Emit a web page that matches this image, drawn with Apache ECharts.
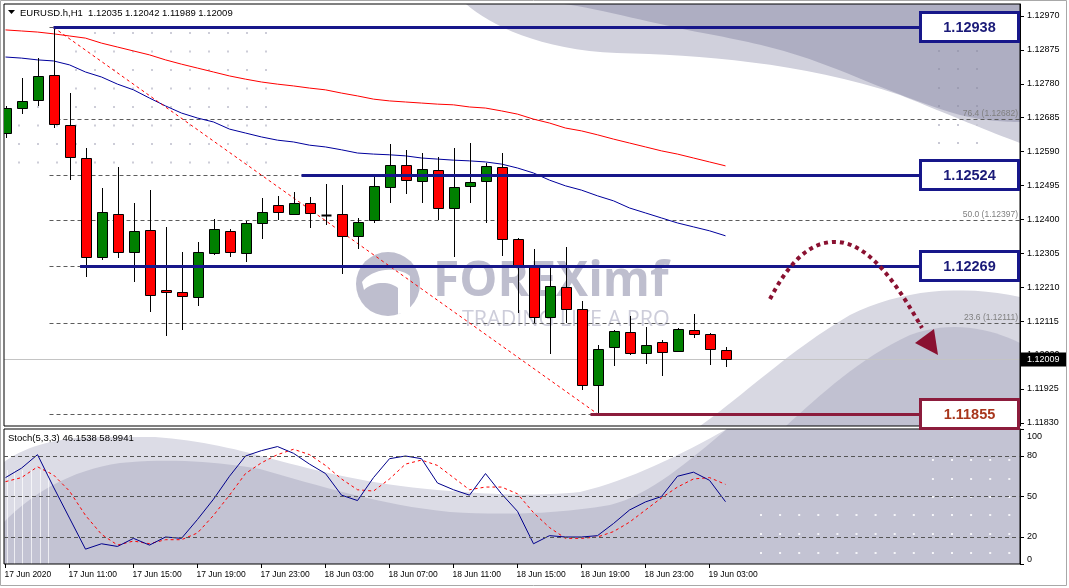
<!DOCTYPE html>
<html><head><meta charset="utf-8">
<script src="https://cdn.jsdelivr.net/npm/echarts@6/dist/echarts.min.js"></script>
<style>html,body{margin:0;padding:0;background:#fff}#c{width:1069px;height:588px}</style>
</head><body><div id="c"></div>
<script>
// ---------------- DATA ----------------
const symbolTitle = 'EURUSD.h,H1';
const tickBars = [0,4,8,12,16,20,24,28,32,36,40,44];
const tickLabels = ['17 Jun 2020','17 Jun 11:00','17 Jun 15:00','17 Jun 19:00','17 Jun 23:00','18 Jun 03:00','18 Jun 07:00','18 Jun 11:00','18 Jun 15:00','18 Jun 19:00','18 Jun 23:00','19 Jun 03:00'];
const priceTicks = [1.11830,1.11925,1.12020,1.12115,1.12210,1.12305,1.12400,1.12495,1.12590,1.12685,1.12780,1.12875,1.12970];
const stochTicks = [0,20,50,80,100];
const stochLevels = [20,50,80];

const opens  = [1.12642,1.12712,1.12735,1.12805,1.12665,1.12572,1.12295,1.12415,1.12309,1.12370,1.12202,1.12197,1.12183,1.12306,1.12368,1.12306,1.12390,1.12440,1.12415,1.12446,1.12412,1.12415,1.12354,1.12398,1.12491,1.12552,1.12508,1.12538,1.12432,1.12494,1.12508,1.12547,1.12345,1.12272,1.12127,1.12211,1.12149,1.11936,1.12042,1.12084,1.12026,1.12056,1.12031,1.12090,1.12079,1.12035];
const closes = [1.12712,1.12732,1.12802,1.12667,1.12575,1.12295,1.12421,1.12309,1.12368,1.12188,1.12197,1.12185,1.12309,1.12373,1.12309,1.12390,1.12421,1.12421,1.12446,1.12418,1.12412,1.12354,1.12393,1.12494,1.12552,1.12510,1.12541,1.12432,1.12491,1.12505,1.12550,1.12345,1.12272,1.12127,1.12213,1.12149,1.11936,1.12037,1.12087,1.12026,1.12048,1.12028,1.12093,1.12079,1.12037,1.12009];
const lows   = [1.12631,1.12698,1.12721,1.12659,1.12513,1.12241,1.12289,1.12295,1.12227,1.12143,1.12076,1.12093,1.12160,1.12303,1.12297,1.12283,1.12348,1.12401,1.12415,1.12379,1.12387,1.12250,1.12320,1.12393,1.12449,1.12474,1.12449,1.12401,1.12297,1.12449,1.12393,1.12300,1.12141,1.12113,1.12026,1.12113,1.11925,1.11855,1.11992,1.12023,1.11998,1.11964,1.12031,1.12070,1.11995,1.11989];
const highs  = [1.12718,1.12796,1.12852,1.12938,1.12754,1.12600,1.12488,1.12547,1.12446,1.12482,1.12379,1.12309,1.12337,1.12401,1.12373,1.12396,1.12460,1.12466,1.12477,1.12463,1.12499,1.12496,1.12404,1.12519,1.12611,1.12595,1.12586,1.12575,1.12600,1.12614,1.12558,1.12586,1.12348,1.12317,1.12264,1.12323,1.12171,1.12048,1.12090,1.12129,1.12099,1.12062,1.12096,1.12135,1.12082,1.12042];

const maBlue = [1.12855,1.12852,1.12847,1.12844,1.12833,1.12813,1.12799,1.12779,1.12763,1.12740,1.12718,1.12698,1.12684,1.12673,1.12653,1.12642,1.12631,1.12622,1.12617,1.12608,1.12603,1.12595,1.12586,1.12583,1.12581,1.12578,1.12572,1.12569,1.12566,1.12564,1.12561,1.12555,1.12544,1.12530,1.12510,1.12494,1.12482,1.12466,1.12452,1.12432,1.12418,1.12404,1.12390,1.12379,1.12368,1.12354];
const maRed  = [1.12931,1.12928,1.12925,1.12920,1.12914,1.12908,1.12894,1.12883,1.12872,1.12861,1.12847,1.12835,1.12824,1.12813,1.12802,1.12793,1.12785,1.12779,1.12774,1.12768,1.12763,1.12754,1.12746,1.12737,1.12732,1.12729,1.12726,1.12723,1.12721,1.12715,1.12712,1.12704,1.12695,1.12681,1.12670,1.12656,1.12648,1.12637,1.12625,1.12614,1.12603,1.12592,1.12583,1.12572,1.12561,1.12550];

const stochK = [64,71,81,57,34,11,15,13,19,14,20,19,33,48,65,80,84,87,82,74,67,51,47,64,78,80,78,60,55,51,67,52,39,15,21,20,20,21,30,40,46,50,65,68,62,46.1538];
const stochD = [61,64,72,66,54,36,22,14,17,15,18,18,23,36,51,67,75,81,85,81,73,63,55,54,63,74,77,73,64,55,57,57,52,38,27,19,19,20,24,31,40,49,57,63,64,58.9941];

const fibStartBar = 2.75;
const fibPercents = [0, 23.6, 38.2, 50.0, 61.8, 76.4, 100];
const fibPrices   = [1.11855, 1.12111, 1.12269, 1.12397, 1.12524, 1.12682, 1.12938];

const keyLevels     = [1.12938, 1.12524, 1.12269, 1.11855];
const keyStartBars  = [3, 18.5, 4.66, 36.56];
const keyKinds      = ['res', 'res', 'res', 'sup'];

const trendFrom = [3, 1.12938];
const trendTo   = [37, 1.11855];
const currentPrice = 1.12009;

// ---------------- LAYOUT / STYLE ----------------
const FONT = '"Liberation Sans", Arial, sans-serif';
const X_MIN = -0.094, X_MAX = 63.406;
const P_MIN = 1.11821, P_MAX = 1.130036;
const kindStroke = {res: '#17178a', sup: '#8c1c3c'};
const kindText = {res: '#1a1a78', sup: '#a8361c'};

// sample a simple "M x y C ... L ... Z" path into polygon points (decorative shapes only)
function samplePath(d) {
  const tok = d.replace(/,/g, ' ').trim().split(/\s+|(?=[MCLZ])|(?<=[MCLZ])/).filter(s => s.length);
  const pts = []; let i = 0, cmd = null, cur = [0,0];
  while (i < tok.length) {
    if (/^[MCLZ]$/.test(tok[i])) { cmd = tok[i++]; if (cmd === 'Z') continue; }
    if (cmd === 'M' || cmd === 'L') {
      cur = [+tok[i], +tok[i+1]]; i += 2; pts.push(cur.slice());
    } else if (cmd === 'C') {
      const p1 = [+tok[i], +tok[i+1]], p2 = [+tok[i+2], +tok[i+3]], p3 = [+tok[i+4], +tok[i+5]]; i += 6;
      for (let s = 1; s <= 16; s++) {
        const t = s / 16, u = 1 - t;
        pts.push([u*u*u*cur[0] + 3*u*u*t*p1[0] + 3*u*t*t*p2[0] + t*t*t*p3[0],
                  u*u*u*cur[1] + 3*u*u*t*p1[1] + 3*u*t*t*p2[1] + t*t*t*p3[1]]);
      }
      cur = p3;
    } else { i++; }
  }
  return pts;
}
function shape(d, fill, z) { return {type:'polygon', shape:{points: samplePath(d)}, style:{fill}, z: z || 0, silent:true}; }

const chart = echarts.init(document.getElementById('c'), null, {renderer: 'canvas'});

const gfx = [];
gfx.push({type:'rect', shape:{x:0.5,y:0.5,width:1066,height:585}, style:{fill:'#fff', stroke:'#a8a8a8', lineWidth:1}, z:-5, silent:true});
gfx.push(shape('M466 4 C490 25 540 50 617 53 C700 55 800 62 900 95 C950 115 990 132 1020 143 L1020 4 Z', '#d0d0dc'));
gfx.push(shape('M564 4 C600 9 660 25 703 33 C740 40 770 46 800 56 C850 72 900 98 960 115 C985 121 1005 122 1020 122 L1020 4 Z', '#aeaec2'));
gfx.push(shape('M700 426 C740 398 790 350 850 315 C900 290 960 284 1020 297 L1020 426 Z', '#d8d8e2'));
gfx.push(shape('M786 426 C820 395 860 358 910 335 C950 320 990 328 1020 343 L1020 426 Z', '#c1c1d1'));
gfx.push(shape('M4 462 C20 450 50 437 100 437 L155 437 C200 440 240 450 280 461 C330 474 380 486 450 491 C500 495 540 496 580 492 C630 480 680 455 727 429 L1020 429 L1020 564 L4 564 Z', '#dcdce6'));
gfx.push(shape('M4 522 C30 495 70 470 120 463 C170 458 220 462 260 469 C320 486 380 505 450 512 C520 516 570 512 610 505 C650 495 690 460 727 429 L1020 429 L1020 564 L4 564 Z', '#c3c3d3'));
[7,14,22,31,40,48].forEach(x => gfx.push({type:'line', shape:{x1:x+0.5,y1:470,x2:x+0.5,y2:564}, style:{stroke:'rgba(255,255,255,0.7)', lineWidth:1}, z:0, silent:true}));
for (let r = 0; r < 8; r++) {
  const y = 32 + r * 18.5;
  const startCol = r === 0 ? 4 : (r < 4 ? 3 : 0);
  for (let c = startCol; c < 14; c++) {
    gfx.push({type:'rect', shape:{x:18 + c*19, y:y, width:2, height:2}, style:{fill:'#cdcdd8'}, z:0, silent:true});
  }
}
[938,957,976].forEach(x => [50,68,87,105,124,142].forEach(y => gfx.push({type:'rect', shape:{x:x,y:y,width:2,height:2}, style:{fill: y < 118 ? '#9d9db2' : '#c8c8d4'}, z:0, silent:true})));
for (let c = 0; c < 14; c++) {
  const x = 760 + c * 19.1;
  [459,478,496,514,533,552].forEach((y, r) => {
    if (r < 3 && c < 9) return;
    gfx.push({type:'rect', shape:{x:x,y:y,width:2,height:2}, style:{fill:'#f4f4f8'}, z:0, silent:true});
  });
}
// watermark
gfx.push({type:'circle', shape:{cx:388, cy:284, r:32}, style:{fill:'#bebece'}, z:1, silent:true});
gfx.push(shape('M362 282 C372 268 398 266 410 276 L410 312 L398 314 L398 288 C388 280 372 282 364 290 Z', '#ffffff', 1));
gfx.push({type:'text', x:433, y:282, style:{text:'FOREXimf', fill:'#bebece', font:'bold 48px "Open Sans", sans-serif', align:'left', verticalAlign:'middle'}, z:1, silent:true});
gfx.push({type:'text', x:462, y:320, style:{text:'TRADING LIKE A PRO', fill:'#cdcdda', font:'21.5px "Open Sans", sans-serif', align:'left', verticalAlign:'middle'}, z:1, silent:true});
// header
gfx.push({type:'polygon', shape:{points:[[8,10],[15,10],[11.5,14]]}, style:{fill:'#000'}, z:20, silent:true});
gfx.push({type:'text', x:20, y:13, style:{text: symbolTitle + '  ' + [opens[45],highs[45],lows[45],closes[45]].map(v=>v.toFixed(5)).join(' '), fill:'#000', font:'9.5px ' + FONT, align:'left', verticalAlign:'middle'}, z:20, silent:true});
gfx.push({type:'text', x:8, y:438, style:{text: 'Stoch(5,3,3) ' + stochK[stochK.length-1].toFixed(4) + ' ' + stochD[stochD.length-1].toFixed(4), fill:'#000', font:'9.5px ' + FONT, align:'left', verticalAlign:'middle'}, z:20, silent:true});
// forecast arrow
gfx.push({type:'polyline', shape:{points: samplePath('M770 299 C790 260 812 240 838 242 C868 244 895 280 922 328')}, style:{fill:null, stroke:'#8a1131', lineWidth:4, lineDash:[4,4]}, z:50, silent:true});
gfx.push({type:'polygon', shape:{points:[[938,355],[915,343],[934,329]]}, style:{fill:'#8a1131'}, z:50, silent:true});

const axisFont = {color:'#000', fontFamily: FONT};

const option = {
  animation: false,
  backgroundColor: 'transparent',
  graphic: {elements: gfx},
  grid: [
    {left:4, top:4, width:1016, height:422, show:true, borderColor:'#000', borderWidth:1, backgroundColor:'transparent', outerBoundsMode:'none', z:3},
    {left:4, top:429, width:1016, height:135, show:true, borderColor:'#000', borderWidth:1, backgroundColor:'transparent', outerBoundsMode:'none', z:3}
  ],
  xAxis: [
    {type:'value', gridIndex:0, min:X_MIN, max:X_MAX, show:false, axisLine:{onZero:false}},
    {type:'value', gridIndex:1, min:X_MIN, max:X_MAX,
     axisLine:{show:false, onZero:false}, splitLine:{show:false},
     axisTick:{show:true, customValues: tickBars, length:4, lineStyle:{color:'#000'}},
     axisLabel:Object.assign({customValues: tickBars, formatter: v => tickLabels[tickBars.indexOf(v)], align:'left', fontSize:8.5, margin:6, padding:[0,0,0,-1]}, axisFont)}
  ],
  yAxis: [
    {type:'value', gridIndex:0, position:'right', min:P_MIN, max:P_MAX, z:5,
     axisLine:{show:true, onZero:false, lineStyle:{color:'#000'}}, splitLine:{show:false},
     axisTick:{show:true, customValues: priceTicks, length:4, lineStyle:{color:'#000'}},
     axisLabel:Object.assign({customValues: priceTicks, formatter: v => v.toFixed(5), fontSize:9, margin:7}, axisFont)},
    {type:'value', gridIndex:1, position:'right', min:0, max:100, z:5,
     axisLine:{show:true, onZero:false, lineStyle:{color:'#000'}}, splitLine:{show:false},
     axisTick:{show:true, customValues: stochTicks, length:4, lineStyle:{color:'#000'}},
     axisLabel:Object.assign({customValues: stochTicks,
       formatter: v => v === stochTicks[stochTicks.length-1] ? '{top|' + v + '}' : String(v),
       rich:{top:{padding:[3,0,0,0], fontSize:9, fontFamily:FONT, color:'#000'}},
       fontSize:9, margin:7, verticalAlignMaxLabel:'top', verticalAlignMinLabel:'bottom'}, axisFont)}
  ],
  series: [
    {type:'custom', xAxisIndex:0, yAxisIndex:0, z:2, silent:true,
     data: fibPrices.map((p, k) => [fibStartBar, p, k]),
     renderItem: (params, api) => {
       const pt = api.coord([api.value(0), api.value(1)]);
       const cs = params.coordSys;
       const right = cs.x + cs.width;
       const y = Math.round(pt[1]) + 0.5;
       const k = api.value(2);
       return {type:'group', children:[
         {type:'line', shape:{x1:pt[0], y1:y, x2:right, y2:y}, style:{stroke:'#5c5c5c', lineWidth:1, lineDash:[4,3]}},
         {type:'text', x:right - 2, y:y - 1, style:{text: fibPercents[k].toFixed(1) + ' (' + fibPrices[k].toFixed(5) + ')', fill:'#7f7f7f', font:'8.5px ' + FONT, align:'right', verticalAlign:'bottom'}}
       ]};
     }},
    {type:'custom', xAxisIndex:0, yAxisIndex:0, z:2, silent:true,
     data: [[X_MIN, currentPrice]],
     renderItem: (params, api) => {
       const pt = api.coord([api.value(0), api.value(1)]);
       const cs = params.coordSys;
       const y = Math.round(pt[1]) + 0.5;
       return {type:'line', shape:{x1:cs.x, y1:y, x2:cs.x + cs.width, y2:y}, style:{stroke:'#c4c4c4', lineWidth:1}};
     }},
    {type:'line', xAxisIndex:0, yAxisIndex:0, z:3, silent:true, showSymbol:false, symbol:'none',
     data: maRed.map((v,i)=>[i,v]), lineStyle:{color:'#ff0000', width:1}},
    {type:'line', xAxisIndex:0, yAxisIndex:0, z:3, silent:true, showSymbol:false, symbol:'none',
     data: maBlue.map((v,i)=>[i,v]), lineStyle:{color:'#00009c', width:1}},
    {type:'line', xAxisIndex:0, yAxisIndex:0, z:3, silent:true, showSymbol:false, symbol:'none',
     data: [trendFrom, trendTo], lineStyle:{color:'#ff0000', width:1, type:[3,3]}},
    {type:'custom', xAxisIndex:0, yAxisIndex:0, z:4, silent:true, clip:true,
     data: opens.map((o,i)=>[i, o, closes[i], lows[i], highs[i]]),
     renderItem: (params, api) => {
       const i = api.value(0), o = api.value(1), c = api.value(2), l = api.value(3), h = api.value(4);
       const pO = api.coord([i,o]), pC = api.coord([i,c]), pL = api.coord([i,l]), pH = api.coord([i,h]);
       const x = Math.round(pO[0]) + 0.5;
       const top = Math.round(Math.min(pO[1], pC[1])) + 0.5;
       const bot = Math.round(Math.max(pO[1], pC[1])) + 0.5;
       const children = [
         {type:'line', shape:{x1:x, y1:Math.round(pH[1]), x2:x, y2:Math.round(pL[1])+1}, style:{stroke:'#000', lineWidth:1}}
       ];
       if (bot - top < 1) {
         children.push({type:'line', shape:{x1:x-5, y1:top, x2:x+5, y2:top}, style:{stroke:'#000', lineWidth:2}});
       } else {
         children.push({type:'rect', shape:{x:x-5, y:top, width:10, height:bot-top}, style:{fill: c >= o ? '#008000' : '#ff0000', stroke:'#000', lineWidth:1}});
       }
       return {type:'group', children};
     }},
    {type:'custom', xAxisIndex:0, yAxisIndex:0, z:6, silent:true,
     data: keyLevels.map((p,k)=>[keyStartBars[k], p, k]),
     renderItem: (params, api) => {
       const pt = api.coord([api.value(0), api.value(1)]);
       const cs = params.coordSys;
       const right = cs.x + cs.width;
       const k = api.value(2);
       const col = kindStroke[keyKinds[k]], tcol = kindText[keyKinds[k]];
       const y = Math.round(pt[1]) + 0.5;
       const boxL = right - 99.5;
       return {type:'group', children:[
         {type:'line', shape:{x1:pt[0], y1:y, x2:boxL, y2:y}, style:{stroke:col, lineWidth:3}},
         {type:'rect', shape:{x:boxL, y:y-15, width:98, height:29}, style:{fill:'#fff', stroke:col, lineWidth:3}},
         {type:'text', x:boxL+49, y:y, style:{text: keyLevels[k].toFixed(5), fill:tcol, font:'bold 14.5px ' + FONT, align:'center', verticalAlign:'middle'}}
       ]};
     }},
    {type:'custom', xAxisIndex:0, yAxisIndex:0, z:8, silent:true, clip:false,
     data: [[X_MIN, currentPrice]],
     renderItem: (params, api) => {
       const pt = api.coord([api.value(0), api.value(1)]);
       const cs = params.coordSys;
       const right = cs.x + cs.width;
       const y = Math.round(pt[1]) + 0.5;
       return {type:'group', children:[
         {type:'rect', shape:{x:right+1, y:y-7, width:45, height:14}, style:{fill:'#000'}},
         {type:'text', x:right+7, y:y, style:{text: currentPrice.toFixed(5), fill:'#fff', font:'9px ' + FONT, align:'left', verticalAlign:'middle'}}
       ]};
     }},
    {type:'line', xAxisIndex:1, yAxisIndex:1, z:3, silent:true, showSymbol:false, symbol:'none',
     data: stochD.map((v,i)=>[i,v]), lineStyle:{color:'#ff0000', width:1, type:[3,3]}},
    {type:'line', xAxisIndex:1, yAxisIndex:1, z:4, silent:true, showSymbol:false, symbol:'none',
     data: stochK.map((v,i)=>[i,v]), lineStyle:{color:'#00008b', width:1},
     markLine:{silent:true, symbol:'none', label:{show:false}, animation:false,
       lineStyle:{color:'#555', type:[4,3], width:1},
       data: stochLevels.map(v => ({yAxis: v}))}}
  ]
};
chart.setOption(option);
</script></body></html>
